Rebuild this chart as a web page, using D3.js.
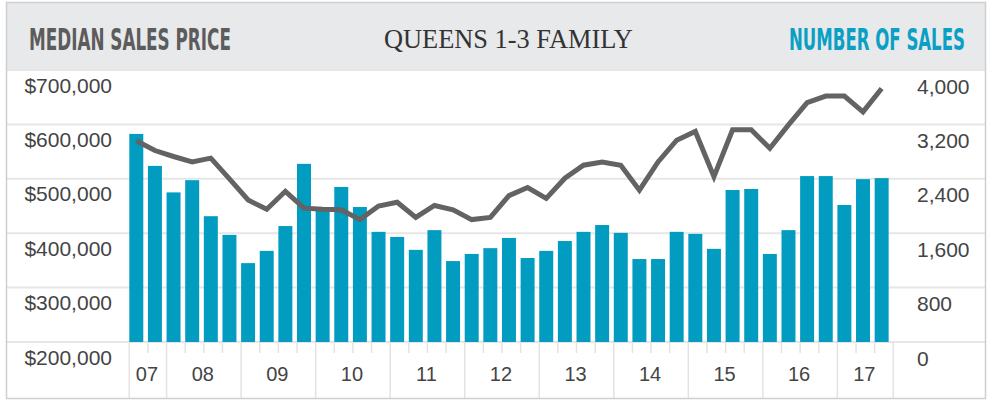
<!DOCTYPE html>
<html>
<head>
<meta charset="utf-8">
<script src="https://cdn.jsdelivr.net/npm/d3@7"></script>
<style>
  body { margin: 0; background: #fff; }
  svg text { font-family: "Liberation Sans", Arial, sans-serif; }
</style>
</head>
<body>
<svg id="chart"></svg>
<script>
// quarters shown on the x axis (2007 Q3 .. 2017 Q3)
const quarters = [
  '07Q3','07Q4',
  '08Q1','08Q2','08Q3','08Q4',
  '09Q1','09Q2','09Q3','09Q4',
  '10Q1','10Q2','10Q3','10Q4',
  '11Q1','11Q2','11Q3','11Q4',
  '12Q1','12Q2','12Q3','12Q4',
  '13Q1','13Q2','13Q3','13Q4',
  '14Q1','14Q2','14Q3','14Q4',
  '15Q1','15Q2','15Q3','15Q4',
  '16Q1','16Q2','16Q3','16Q4',
  '17Q1','17Q2','17Q3'
];
const yearLabels = ['07','08','09','10','11','12','13','14','15','16','17'];

// number of sales (bars, right axis)
const salesCount = [
  3060, 2590, 2200, 2380, 1850, 1575, 1160, 1340, 1705, 2620,
  1950, 2280, 1985, 1620, 1545, 1355, 1645, 1190, 1295, 1380,
  1530, 1235, 1340, 1485, 1620, 1720, 1605, 1220, 1220, 1620,
  1590, 1370, 2235, 2250, 1295, 1645, 2440, 2440, 2015, 2395, 2410
];

// median sales price (line, left axis)
const medianPrice = [
  570000, 552000, 541000, 531000, 538000, 500000, 461000, 444000, 477000, 446000,
  444000, 443000, 425000, 450000, 457000, 429000, 451000, 443000, 425000, 429000,
  469000, 484000, 464000, 501000, 525000, 531000, 525000, 479000, 531000, 571000,
  587000, 504000, 590000, 590000, 556000, 599000, 640000, 652000, 652000, 623000, 666000
];

const priceTicks = [200000, 300000, 400000, 500000, 600000, 700000];
const salesTicks = [0, 800, 1600, 2400, 3200, 4000];

const W = 994, H = 400;
const frame = {left: 6, right: 986, top: 2, bottom: 398, header: 70};
const plot = {left: 129.3, right: 893.3, top: 70, bottom: 342};

const svg = d3.select('#chart').attr('width', W).attr('height', H);

const x = d3.scaleBand().domain(quarters).range([plot.left, plot.right]).padding(0);
const barW = x.bandwidth() * 0.75;
const yPrice = d3.scaleLinear().domain([200000, 700000]).range([plot.bottom, plot.top]);
const ySales = d3.scaleLinear().domain([0, 4000]).range([plot.bottom, plot.top]);

// header band
svg.append('rect')
  .attr('x', frame.left).attr('y', frame.top)
  .attr('width', frame.right - frame.left).attr('height', frame.header - frame.top)
  .attr('fill', '#e8e9eb');

// header titles: squeeze each one horizontally to the width it has in the original
function headerText(str, left, baseline, width, family, size, weight, color) {
  const t = svg.append('text')
    .style('font-family', family)
    .style('font-weight', weight)
    .style('font-size', size + 'px')
    .attr('fill', color)
    .text(str);
  const natural = t.node().getComputedTextLength();
  t.attr('transform', `translate(${left},${baseline}) scale(${width / natural},1)`);
}

headerText('MEDIAN SALES PRICE', 29, 50, 202,
  '"DejaVu Sans Condensed", "DejaVu Sans", sans-serif', 31, 'bold', '#5c5c5c');
headerText('QUEENS 1-3 FAMILY', 384, 48, 249,
  '"Liberation Serif", "DejaVu Serif", serif', 28, 'normal', '#333');
headerText('NUMBER OF SALES', 789, 50, 176,
  '"DejaVu Sans Condensed", "DejaVu Sans", sans-serif', 31, 'bold', '#0a9fc4');

// gridlines, full width
svg.append('g').selectAll('line')
  .data(priceTicks)
  .join('line')
    .attr('x1', frame.left).attr('x2', frame.right)
    .attr('y1', d => yPrice(d)).attr('y2', d => yPrice(d))
    .attr('stroke', '#e6e6e6').attr('stroke-width', 2);

// bars
svg.append('g').selectAll('rect')
  .data(quarters)
  .join('rect')
    .attr('x', d => x(d))
    .attr('y', (d, i) => ySales(salesCount[i]))
    .attr('width', barW)
    .attr('height', (d, i) => plot.bottom - ySales(salesCount[i]))
    .attr('fill', '#029cc0');

// price line
const line = d3.line()
  .x(d => x(d) + barW / 2)
  .y((d, i) => yPrice(medianPrice[i]));

svg.append('path')
  .datum(quarters)
  .attr('d', line)
  .attr('fill', 'none')
  .attr('stroke', '#636363')
  .attr('stroke-width', 5)
  .attr('stroke-linejoin', 'miter');

// left axis (labels sit below each gridline)
svg.append('g')
  .attr('transform', 'translate(112,0)')
  .call(d3.axisLeft(yPrice).tickValues(priceTicks).tickSize(0).tickPadding(0)
    .tickFormat(d => '$' + d3.format(',')(d)))
  .call(g => g.select('.domain').remove())
  .call(g => g.selectAll('text')
    .attr('dy', '1.05em')
    .attr('font-size', 21)
    .attr('fill', '#444'));

// right axis
svg.append('g')
  .attr('transform', 'translate(917,0)')
  .call(d3.axisRight(ySales).tickValues(salesTicks).tickSize(0).tickPadding(0)
    .tickFormat(d3.format(',')))
  .call(g => g.select('.domain').remove())
  .call(g => g.selectAll('text')
    .attr('dy', '1.1em')
    .attr('font-size', 21)
    .attr('fill', '#444'));

// x axis: quarter ticks and year separators
const xAxisG = svg.append('g');
const boundaries = quarters.map(q => ({pos: x(q), yearStart: q.endsWith('Q1')}));
boundaries.push({pos: plot.right, yearStart: true});
boundaries[0].yearStart = true;

xAxisG.selectAll('line')
  .data(boundaries)
  .join('line')
    .attr('x1', d => d.pos).attr('x2', d => d.pos)
    .attr('y1', plot.bottom)
    .attr('y2', d => d.yearStart ? frame.bottom : plot.bottom + 11)
    .attr('stroke', '#e3e3e3').attr('stroke-width', 1.5);

xAxisG.selectAll('text')
  .data(yearLabels)
  .join('text')
    .attr('x', yr => {
      const qs = quarters.filter(q => q.startsWith(yr));
      return (x(qs[0]) + x(qs[qs.length - 1]) + x.step()) / 2 - 1;
    })
    .attr('y', 381)
    .attr('text-anchor', 'middle')
    .attr('font-size', 20)
    .attr('fill', '#444')
    .text(yr => yr);

// outer frame
svg.append('rect')
  .attr('x', frame.left + 0.5).attr('y', frame.top + 0.5)
  .attr('width', frame.right - frame.left - 1).attr('height', frame.bottom - frame.top)
  .attr('fill', 'none')
  .attr('stroke', '#cfcfcf').attr('stroke-width', 1.5);
</script>
</body>
</html>
